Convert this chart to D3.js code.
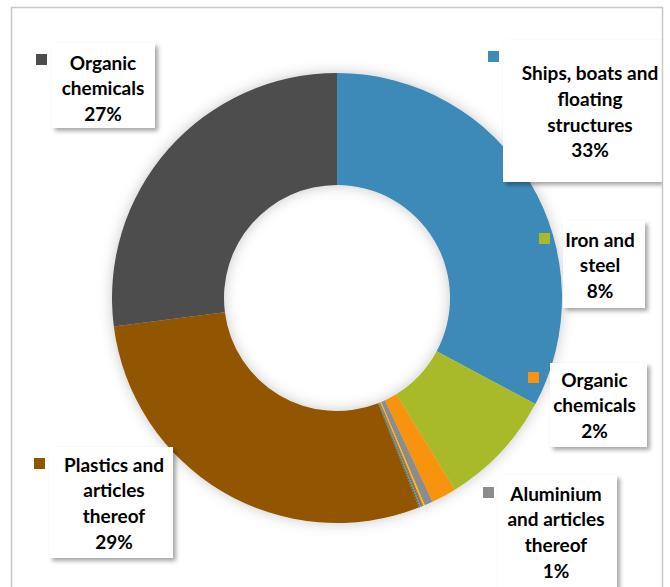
<!DOCTYPE html>
<html>
<head>
<meta charset="utf-8">
<script src="https://cdn.jsdelivr.net/npm/d3@7/dist/d3.min.js"></script>
<style>
  html, body { margin: 0; padding: 0; background: #ffffff; }
  svg { display: block; }
  text { font-family: "Lato", "Open Sans", sans-serif; font-weight: 700; }
</style>
</head>
<body>
<svg id="chart" width="670" height="587"></svg>
<script>
// ---- data ----
const categories = [
  "Ships, boats and\nfloating\nstructures",
  "Iron and\nsteel",
  "Organic\nchemicals",
  "Aluminium\nand articles\nthereof",
  "Other A", "Other B", "Other C", "Other D", "Other E",
  "Plastics and\narticles\nthereof",
  "Organic\nchemicals"
];
const values = [32.8, 8.4, 1.8, 0.6, 0.12, 0.09, 0.08, 0.08, 0.08, 28.9, 27.0];
const percentLabels = ["33%", "8%", "2%", "1%", "", "", "", "", "", "29%", "27%"];
const colors = ["#3E8AB8", "#A8B92C", "#F7930F", "#8C8C8C",
                "#F2C200", "#E4511E", "#3C6DB4", "#6E9E3A", "#5A5A5A",
                "#925600", "#4D4D4D"];

// ---- layout ----
const W = 670, H = 587;
const cx = 337, cy = 298, rOuter = 225, rInner = 113;
const lineH = 25.8;
const frame = {x: 11.5, y: 7.5, w: 651, h: 620};
// label layout per slice index: text centre x, first baseline, box, marker
const labelLayout = {
  0:  {tx: 590, by: 80,  box: [503, 40, 165, 142], mk: [488, 51]},
  1:  {tx: 600, by: 246.5, box: [563, 221, 82, 87], mk: [539, 233]},
  2:  {tx: 594.5, by: 386.5, box: [550, 363, 97, 84], mk: [528, 372]},
  3:  {tx: 556, by: 500.5, box: [498, 475, 119, 130], mk: [483, 487]},
  9:  {tx: 114, by: 471.5, box: [49, 447, 124, 111], mk: [34, 458]},
  10: {tx: 103, by: 69.5, box: [52, 43, 103, 85], mk: [36, 54]}
};

const svg = d3.select("#chart");

const defs = svg.append("defs");
const f1 = defs.append("filter").attr("id", "donutShadow")
  .attr("x", "-20%").attr("y", "-20%").attr("width", "140%").attr("height", "140%");
f1.append("feDropShadow").attr("dx", 0).attr("dy", 0)
  .attr("stdDeviation", 7).attr("flood-color", "#000").attr("flood-opacity", 0.22);
const f2 = defs.append("filter").attr("id", "boxShadow")
  .attr("x", "-20%").attr("y", "-20%").attr("width", "150%").attr("height", "150%");
f2.append("feDropShadow").attr("dx", 3).attr("dy", 3)
  .attr("stdDeviation", 2.2).attr("flood-color", "#000").attr("flood-opacity", 0.35);
defs.append("clipPath").attr("id", "frameClip")
  .append("rect").attr("x", frame.x).attr("y", frame.y).attr("width", frame.w).attr("height", frame.h);

// frame background
svg.append("rect")
  .attr("x", frame.x).attr("y", frame.y).attr("width", frame.w).attr("height", frame.h)
  .attr("fill", "#fff");

const data = categories.map((c, i) => ({name: c, value: values[i], pct: percentLabels[i], color: colors[i], i}));

const pie = d3.pie().value(d => d.value).sort(null);
const arc = d3.arc().innerRadius(rInner).outerRadius(rOuter);

const g = svg.append("g").attr("transform", `translate(${cx},${cy})`);
const donut = g.append("g").attr("filter", "url(#donutShadow)");
donut.selectAll("path")
  .data(pie(data))
  .join("path")
  .attr("d", arc)
  .attr("fill", d => d.data.color);

// labels
const labels = svg.append("g").attr("clip-path", "url(#frameClip)");
data.forEach(d => {
  const L = labelLayout[d.i];
  if (!L) return;
  const grp = labels.append("g");
  grp.append("rect")
    .attr("x", L.box[0]).attr("y", L.box[1])
    .attr("width", L.box[2]).attr("height", L.box[3])
    .attr("fill", "#fff").attr("filter", "url(#boxShadow)");
  grp.append("rect")
    .attr("x", L.mk[0]).attr("y", L.mk[1]).attr("width", 11).attr("height", 11)
    .attr("fill", d.color);
  const lines = d.name.split("\n").concat([d.pct]);
  const t = grp.append("text")
    .attr("text-anchor", "middle")
    .attr("font-size", 19)
    .attr("fill", "#000");
  lines.forEach((ln, k) => {
    t.append("tspan").attr("x", L.tx).attr("y", L.by + k * lineH).text(ln);
  });
});

// frame border on top
svg.append("rect")
  .attr("x", frame.x).attr("y", frame.y).attr("width", frame.w).attr("height", frame.h)
  .attr("fill", "none").attr("stroke", "#C8C8C8").attr("stroke-width", 1.5);
</script>
</body>
</html>
